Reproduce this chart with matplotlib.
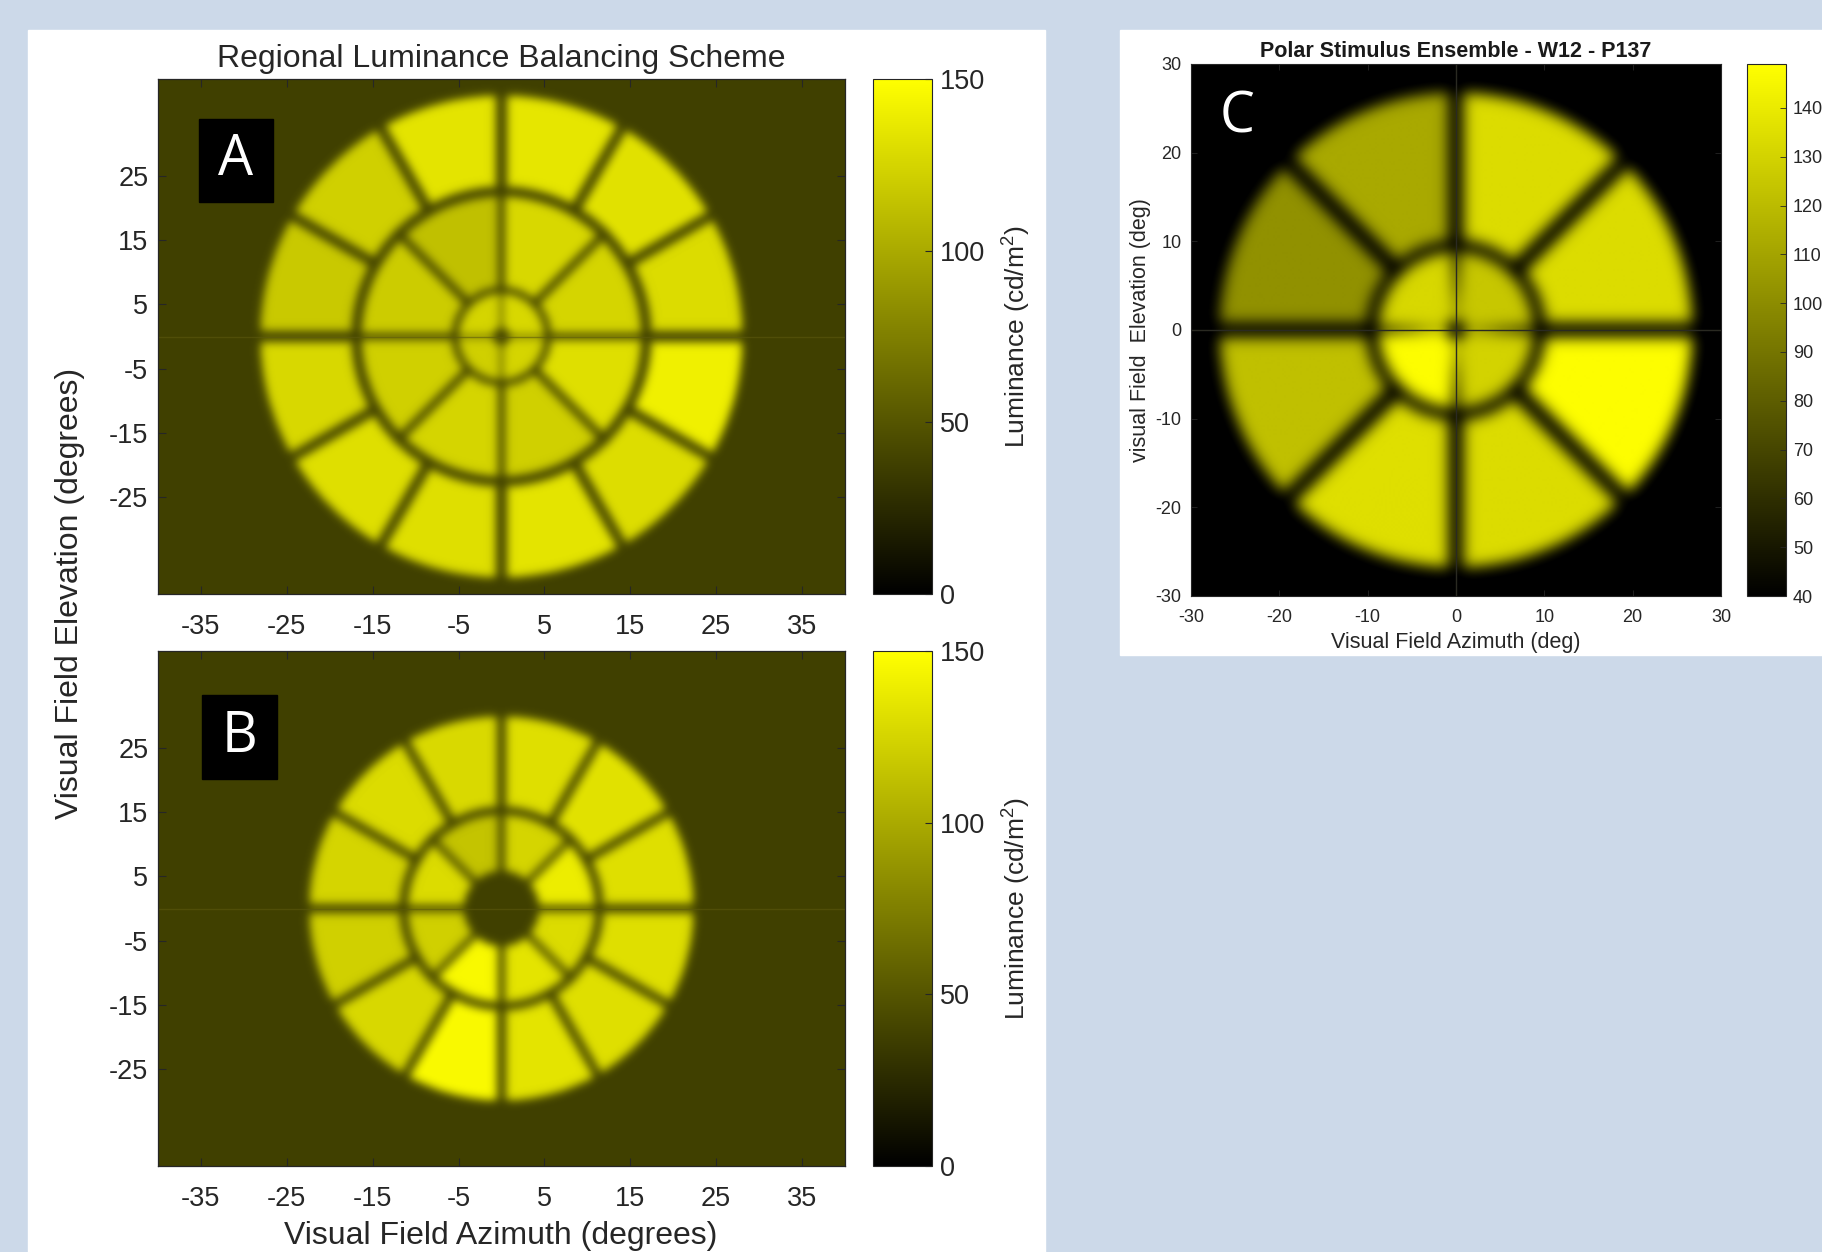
import numpy as np
import matplotlib.pyplot as plt
from matplotlib.colors import LinearSegmentedColormap
from matplotlib.patches import Rectangle

plt.rcParams['font.family'] = ['Liberation Sans', 'DejaVu Sans']
plt.rcParams['mathtext.default'] = 'regular'
plt.rcParams['axes.unicode_minus'] = False

# luminance of each stimulus sector (cd/m2), sectors counted CCW from 0 deg (right)
A_OUTER = [129, 133, 135, 134, 122, 118, 127, 131, 131, 134, 130, 141]
A_MIDDLE = [125, 127, 113, 120, 122, 125, 122, 131]
A_INNER = [127, 125, 122, 125]
A_BG = 38

B_OUTER = [131, 133, 131, 128, 129, 125, 122, 127, 147, 134, 131, 131]
B_MIDDLE = [139, 125, 115, 129, 122, 146, 134, 129]
B_BG = 38

C_OUTER = [134, 134, 112, 102, 122, 135, 134, 148]
C_INNER = [125, 132, 148, 130]
C_BG = 38

AB_XTICKS = [-35, -25, -15, -5, 5, 15, 25, 35]
AB_YTICKS = [-25, -15, -5, 5, 15, 25]
AB_CTICKS = [0, 50, 100, 150]
C_TICKS = [-30, -20, -10, 0, 10, 20, 30]
C_CTICKS = [40, 50, 60, 70, 80, 90, 100, 110, 120, 130, 140]

W, H = 1822, 1252
cmap = LinearSegmentedColormap.from_list('blk_yel', ['#000000', '#ffff00'])


def stimulus(x, y, rings, bg):
    r = np.hypot(x, y)
    th = np.degrees(np.arctan2(y, x)) % 360
    img = np.full(x.shape, float(bg))
    for r_in, r_out, vals, bar, wedge in rings:
        n = len(vals)
        seg = 360.0 / n
        idx = (th // seg).astype(int) % n
        phi = th - idx * seg
        d = np.minimum(phi, seg - phi)
        if wedge:
            gap = d < bar
        else:
            gap = r * np.sin(np.radians(d)) < bar / 2
        inside = (r >= r_in) & (r < r_out) & ~gap
        img[inside] = np.asarray(vals, float)[idx[inside]]
    return img


def blur(img, sigma):
    rad = int(3 * sigma) + 1
    k = np.exp(-0.5 * (np.arange(-rad, rad + 1) / sigma) ** 2)
    k /= k.sum()
    p = np.pad(img, rad, mode='edge')
    p = np.apply_along_axis(lambda m: np.convolve(m, k, mode='valid'), 1, p)
    p = np.apply_along_axis(lambda m: np.convolve(m, k, mode='valid'), 0, p)
    return p


def box(l, t, r, b):
    return [l / W, 1 - b / H, (r - l) / W, (b - t) / H]


fig = plt.figure(figsize=(W / 100, H / 100), dpi=100, facecolor='#ccd9e9')
fig.patches.append(Rectangle((28 / W, 0), (1045 - 28) / W, 1 - 30 / H,
                             transform=fig.transFigure, color='white', zorder=-5))
fig.patches.append(Rectangle((1120 / W, 1 - 655 / H), (W - 1120) / W, (655 - 30) / H,
                             transform=fig.transFigure, color='white', zorder=-5))

# grid for A and B (pixel based, stimulus is round on screen)
nx, ny = 687, 515
gx, gy = np.meshgrid(np.linspace(-40, 40, nx), np.linspace(40, -40, ny))
ky = ny / nx

img_a = stimulus(gx, gy * ky, [
    (17.5, 28.1, A_OUTER, 1.2, False),
    (5.8, 16.3, A_MIDDLE, 0.85, False),
    (1.0, 5.0, A_INNER, 0.4, False),
], A_BG)
img_a = blur(img_a, 4.5)

img_b = stimulus(gx, gy * ky, [
    (11.9, 22.4, B_OUTER, 1.0, False),
    (4.4, 10.9, B_MIDDLE, 0.8, False),
], B_BG)
img_b = blur(img_b, 4.5)

panels = [
    (img_a, 79, 594, 'A', (199, 119, 273, 202)),
    (img_b, 651, 1166, 'B', (202, 695, 277, 779)),
]
for img, top, bot, letter, lb in panels:
    ax = fig.add_axes(box(158, top, 845, bot))
    ax.imshow(img, extent=(-40, 40, -40, 40), aspect='auto', cmap=cmap,
              vmin=0, vmax=150, interpolation='bilinear')
    ax.axhline(0, color=(0.36, 0.35, 0.06), lw=1, alpha=0.6)
    ax.set_xlim(-40, 40)
    ax.set_ylim(-40, 40)
    ax.set_xticks(AB_XTICKS)
    ax.set_yticks(AB_YTICKS)
    ax.tick_params(direction='in', top=True, right=True, length=6, width=0.8,
                   labelsize=19.5, colors='#262626')
    ax.tick_params(axis='x', pad=14.5)
    ax.tick_params(axis='y', pad=7)
    for s in ax.spines.values():
        s.set_color('#262626')
        s.set_linewidth(0.9)
    l, t, r, b = lb
    ax.add_patch(Rectangle(((l - 158) / 687, 1 - (b - top) / 515), (r - l) / 687, (b - t) / 515,
                           transform=ax.transAxes, color='black', zorder=5))
    ax.text(((l + r) / 2 - 158) / 687, 1 - ((t + b) / 2 - top) / 515, letter,
            transform=ax.transAxes, color='white', fontsize=40, family='Open Sans',
            ha='center', va='center', zorder=6)

    cax = fig.add_axes(box(873, top, 932, bot))
    cb = fig.colorbar(ax.images[0], cax=cax, ticks=AB_CTICKS)
    cax.tick_params(direction='in', length=5, width=0.8, labelsize=19.5, pad=6, colors='#262626')
    cb.outline.set_edgecolor('#262626')
    fig.text(1017 / W, 1 - (top + bot) / 2 / H, 'Luminance (cd/m$^2$)', rotation=90,
             ha='center', va='center', fontsize=19, color='#262626')

fig.axes[0].set_title('Regional Luminance Balancing Scheme', fontsize=23, pad=9, color='#262626')
fig.text(70 / W, 1 - 593 / H, 'Visual Field Elevation (degrees)', rotation=90,
         ha='center', va='center', fontsize=23, color='#262626')
fig.text(501 / W, 1 - 1236 / H, 'Visual Field Azimuth (degrees)',
         ha='center', va='center', fontsize=23, color='#262626')

# panel C
n = 531
cx, cy = np.meshgrid(np.linspace(-30, 30, n), np.linspace(30, -30, n))
img_c = stimulus(cx, cy, [
    (10.2, 26.8, C_OUTER, 1.8, False),
    (1.15, 8.8, C_INNER, 3.0, True),
], C_BG)
img_c = blur(img_c, 7)

axc = fig.add_axes(box(1191, 64, 1721, 596))
axc.imshow(img_c, extent=(-30, 30, -30, 30), aspect='auto', cmap=cmap,
           vmin=40, vmax=149, interpolation='bilinear')
axc.axhline(0, color='#2a2a22', lw=1)
axc.axvline(0, color='#2a2a22', lw=1)
axc.set_xlim(-30, 30)
axc.set_ylim(-30, 30)
axc.set_xticks(C_TICKS)
axc.set_yticks(C_TICKS)
axc.tick_params(direction='in', top=True, right=True, length=4, width=0.6,
                labelsize=13, colors='#262626')
axc.tick_params(axis='x', pad=9.5)
axc.tick_params(axis='y', pad=7)
for s in axc.spines.values():
    s.set_color('#262626')
    s.set_linewidth(0.8)
axc.set_title('Polar Stimulus Ensemble - W12 - P137', fontsize=15.5, fontweight='bold',
              pad=5, color='#1a1a1a')
axc.set_xlabel('Visual Field Azimuth (deg)', fontsize=15.5, labelpad=4, color='#262626')
axc.set_ylabel('visual Field  Elevation (deg)', fontsize=15.5, labelpad=3, color='#262626')
axc.text(0.087, 0.898, 'C', transform=axc.transAxes, color='white', fontsize=40,
         family='Open Sans', ha='center', va='center')

caxc = fig.add_axes(box(1747, 64, 1786, 596))
cbc = fig.colorbar(axc.images[0], cax=caxc, ticks=C_CTICKS)
caxc.tick_params(direction='in', length=4, width=0.6, labelsize=13, pad=5, colors='#262626')
cbc.outline.set_edgecolor('#262626')

fig.savefig('out.png', dpi=100, facecolor=fig.get_facecolor())
